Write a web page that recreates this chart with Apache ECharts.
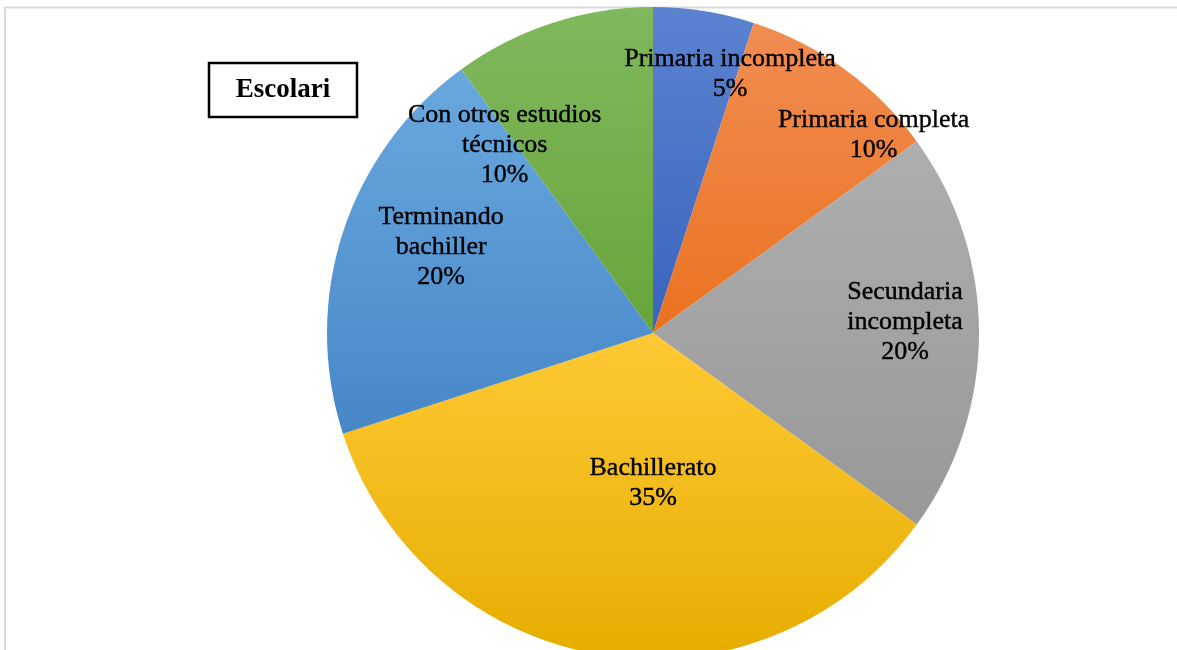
<!DOCTYPE html>
<html>
<head>
<meta charset="utf-8">
<script src="https://cdn.jsdelivr.net/npm/echarts@6/dist/echarts.min.js"></script>
<style>
html,body{margin:0;padding:0;background:#fff;}
#chart{width:1177px;height:650px;}
</style>
</head>
<body>
<div id="chart"></div>
<script>
// Data
var categories = ['Primaria incompleta', 'Primaria completa', 'Secundaria\nincompleta', 'Bachillerato', 'Terminando\nbachiller', 'Con otros estudios\ntécnicos'];
var values = [5, 10, 20, 35, 20, 10];
var titleText = 'Escolari';

// Styles
var topColors = ['#5B83D0', '#F18D52', '#AEAEAE', '#FFC935', '#69A8DE', '#80B85D'];
var bottomColors = ['#3A64BD', '#EA7220', '#989898', '#E6AD00', '#4787C8', '#67A53A'];
var labelShift = [[51, -95], [123, -64], [86, -11], [26, -14], [-54, -35], [-97, -30]];

var data = categories.map(function (c, i) {
  return {
    name: c,
    value: values[i],
    itemStyle: {
      color: {
        type: 'linear', x: 0, y: 0, x2: 0, y2: 1,
        colorStops: [{offset: 0, color: topColors[i]}, {offset: 1, color: bottomColors[i]}]
      }
    }
  };
});

var chart = echarts.init(document.getElementById('chart'), null, {renderer: 'canvas'});
chart.setOption({
  animation: false,
  backgroundColor: '#fff',
  graphic: [
    {type: 'line', shape: {x1: 4, y1: 7.5, x2: 1177, y2: 7.5}, style: {stroke: '#D9D9D9', lineWidth: 2}, z: 0},
    {type: 'line', shape: {x1: 5, y1: 7, x2: 5, y2: 650}, style: {stroke: '#D9D9D9', lineWidth: 2}, z: 0},
    {type: 'rect', shape: {x: 209, y: 63, width: 148, height: 54}, style: {fill: '#fff', stroke: '#000', lineWidth: 2.5}, z: 10},
    {type: 'text', x: 283, y: 90, style: {text: titleText, font: 'bold 27px "Liberation Serif", "Times New Roman", serif', fill: '#000', textAlign: 'center', textVerticalAlign: 'middle'}, z: 11}
  ],
  series: [{
    type: 'pie',
    center: [653, 333],
    radius: 326,
    startAngle: 90,
    clockwise: true,
    avoidLabelOverlap: false,
    percentPrecision: 0,
    data: data,
    itemStyle: {borderWidth: 0},
    emphasis: {disabled: true},
    label: {
      show: true,
      position: 'inside',
      formatter: '{b}\n{d}%',
      color: '#000',
      fontFamily: '"Liberation Serif", "Times New Roman", serif',
      fontSize: 26,
      lineHeight: 30,
      align: 'center',
      textBorderColor: '#000',
      textBorderWidth: 0.4
    },
    labelLine: {show: false},
    labelLayout: function (params) {
      var s = labelShift[params.dataIndex];
      return {dx: s[0], dy: s[1]};
    }
  }]
});
</script>
</body>
</html>
